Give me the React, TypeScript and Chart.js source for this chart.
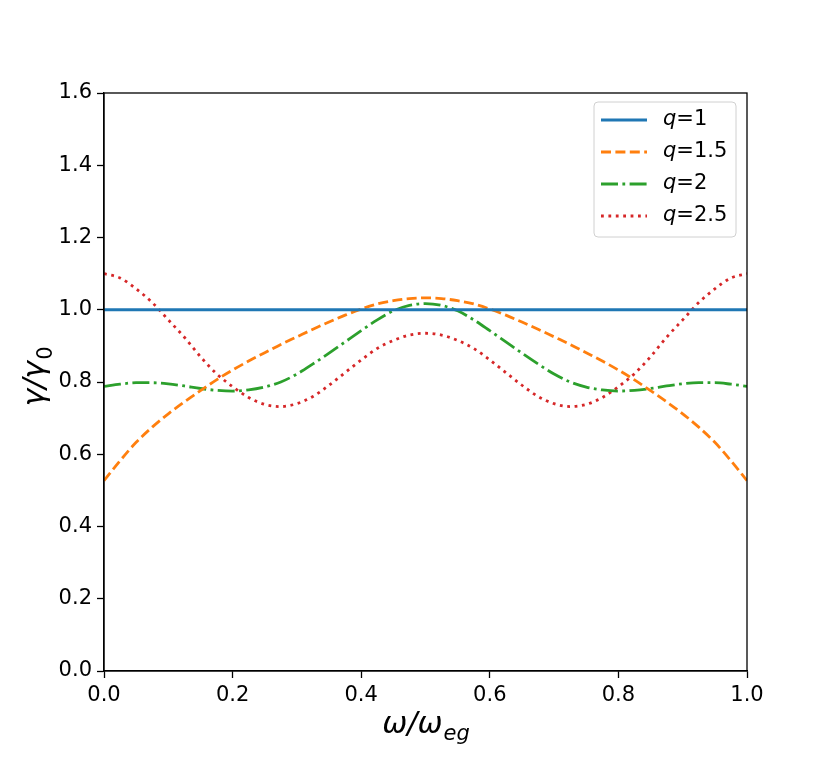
import React, { useEffect, useRef } from 'react';
import { Chart, registerables } from 'chart.js';

Chart.register(...registerables);

// omega / omega_eg sample points
const omegaRatio = [
  0, 0.025, 0.05, 0.075, 0.1, 0.125, 0.15, 0.175, 0.2, 0.225, 0.25,
  0.275, 0.3, 0.325, 0.35, 0.375, 0.4, 0.425, 0.45, 0.475, 0.5,
  0.525, 0.55, 0.575, 0.6, 0.625, 0.65, 0.675, 0.7, 0.725, 0.75,
  0.775, 0.8, 0.825, 0.85, 0.875, 0.9, 0.925, 0.95, 0.975, 1.0
];

// gamma / gamma_0
const gammaQ1 = [
  1, 1, 1, 1, 1, 1, 1, 1, 1, 1, 1,
  1, 1, 1, 1, 1, 1, 1, 1, 1, 1,
  1, 1, 1, 1, 1, 1, 1, 1, 1, 1,
  1, 1, 1, 1, 1, 1, 1, 1, 1, 1
];
const gammaQ15 = [
  0.527, 0.582, 0.633, 0.675, 0.712, 0.745, 0.776, 0.806, 0.833, 0.858, 0.881,
  0.904, 0.925, 0.946, 0.966, 0.985, 1.002, 1.016, 1.025, 1.031, 1.033,
  1.031, 1.025, 1.016, 1.002, 0.985, 0.966, 0.946, 0.925, 0.904, 0.881,
  0.858, 0.833, 0.806, 0.776, 0.745, 0.712, 0.675, 0.633, 0.582, 0.527
];
const gammaQ2 = [
  0.788, 0.794, 0.798, 0.798, 0.795, 0.789, 0.782, 0.777, 0.775, 0.778, 0.786,
  0.800, 0.822, 0.850, 0.880, 0.911, 0.942, 0.972, 0.997, 1.012, 1.017,
  1.012, 0.997, 0.972, 0.942, 0.911, 0.880, 0.850, 0.822, 0.800, 0.786,
  0.778, 0.775, 0.777, 0.782, 0.789, 0.795, 0.798, 0.798, 0.794, 0.788
];
const gammaQ25 = [
  1.100, 1.088, 1.058, 1.020, 0.972, 0.924, 0.870, 0.823, 0.787, 0.757, 0.738,
  0.732, 0.740, 0.760, 0.791, 0.826, 0.861, 0.893, 0.915, 0.930, 0.935,
  0.930, 0.915, 0.893, 0.861, 0.826, 0.791, 0.760, 0.740, 0.732, 0.738,
  0.757, 0.787, 0.823, 0.870, 0.924, 0.972, 1.020, 1.058, 1.088, 1.100
];

const qValues = ['1', '1.5', '2', '2.5'];
const xTicks = [0, 0.2, 0.4, 0.6, 0.8, 1.0];
const yTicks = [0, 0.2, 0.4, 0.6, 0.8, 1.0, 1.2, 1.4, 1.6];

const FONT = '"DejaVu Sans", sans-serif';

// frame on all four sides, like matplotlib spines
const framePlugin = {
  id: 'frame',
  afterDraw(chart: any) {
    const { ctx, chartArea: a } = chart;
    ctx.save();
    ctx.strokeStyle = '#000';
    ctx.lineWidth = 1.3;
    ctx.setLineDash([]);
    ctx.strokeRect(a.left, a.top, a.right - a.left, a.bottom - a.top);
    ctx.restore();
  }
};

// axis titles with subscripts
const titlesPlugin = {
  id: 'mathTitles',
  afterDraw(chart: any) {
    const { ctx, chartArea: a } = chart;
    const main = `italic 30px ${FONT}`;
    const sub = `italic 21px ${FONT}`;
    ctx.save();
    ctx.fillStyle = '#000';
    ctx.textBaseline = 'alphabetic';
    ctx.textAlign = 'left';

    // x title: ω/ω_eg
    ctx.font = main;
    const xMain = 'ω/ω';
    const wMain = ctx.measureText(xMain).width;
    ctx.font = sub;
    const wSub = ctx.measureText('eg').width;
    const cx = (a.left + a.right) / 2;
    const x0 = cx - (wMain + wSub) / 2;
    ctx.font = main;
    ctx.fillText(xMain, x0, 733);
    ctx.font = sub;
    ctx.fillText('eg', x0 + wMain + 1, 740);

    // y title: γ/γ_0
    ctx.translate(44, (a.top + a.bottom) / 2 - 5);
    ctx.rotate(-Math.PI / 2);
    ctx.font = main;
    const yMain = 'γ/γ';
    const wy = ctx.measureText(yMain).width;
    ctx.font = `21px ${FONT}`;
    const wy0 = ctx.measureText('0').width;
    const y0 = -(wy + wy0) / 2;
    ctx.font = main;
    ctx.fillText(yMain, y0, 0);
    ctx.font = `21px ${FONT}`;
    ctx.fillText('0', y0 + wy + 1, 8);
    ctx.restore();
  }
};

// legend box in the upper right of the plot area
const legendPlugin = {
  id: 'lineLegend',
  afterDraw(chart: any) {
    const { ctx, chartArea: a } = chart;
    const boxRight = a.right - 11;
    const boxLeft = boxRight - 142;
    const boxTop = a.top + 9;
    const boxH = 135;
    ctx.save();
    ctx.beginPath();
    ctx.roundRect(boxLeft, boxTop, boxRight - boxLeft, boxH, 4);
    ctx.fillStyle = 'rgba(255,255,255,0.8)';
    ctx.fill();
    ctx.strokeStyle = '#d0d0d0';
    ctx.lineWidth = 1;
    ctx.stroke();

    chart.data.datasets.forEach((ds: any, i: number) => {
      const rowY = boxTop + 18 + i * 32;
      ctx.beginPath();
      ctx.strokeStyle = ds.borderColor;
      ctx.lineWidth = ds.borderWidth;
      ctx.setLineDash(ds.borderDash || []);
      ctx.moveTo(boxLeft + 7, rowY);
      ctx.lineTo(boxLeft + 53, rowY);
      ctx.stroke();
      ctx.setLineDash([]);

      ctx.fillStyle = '#000';
      ctx.textBaseline = 'middle';
      ctx.textAlign = 'left';
      ctx.font = `italic 21px ${FONT}`;
      const tx = boxLeft + 69;
      ctx.fillText('q', tx, rowY);
      const wq = ctx.measureText('q').width;
      ctx.font = `21px ${FONT}`;
      ctx.fillText('=' + qValues[i], tx + wq, rowY);
    });
    ctx.restore();
  }
};

const toPoints = (ys: number[]) => omegaRatio.map((x, i) => ({ x, y: ys[i] }));

const App: React.FC = () => {
  const canvasRef = useRef<HTMLCanvasElement | null>(null);
  const chartRef = useRef<Chart | null>(null);

  useEffect(() => {
    document.body.style.margin = '0';
    if (!canvasRef.current) return;
    const ctx = canvasRef.current.getContext('2d');
    if (!ctx) return;

    if (chartRef.current) chartRef.current.destroy();

    chartRef.current = new Chart(ctx, {
      type: 'line',
      data: {
        datasets: [
          {
            label: 'q=' + qValues[0],
            data: toPoints(gammaQ1),
            borderColor: '#1f77b4',
            borderWidth: 2.8,
            pointRadius: 0,
            cubicInterpolationMode: 'monotone'
          },
          {
            label: 'q=' + qValues[1],
            data: toPoints(gammaQ15),
            borderColor: '#ff7f0e',
            borderWidth: 2.8,
            borderDash: [10, 4.4],
            pointRadius: 0,
            cubicInterpolationMode: 'monotone'
          },
          {
            label: 'q=' + qValues[2],
            data: toPoints(gammaQ2),
            borderColor: '#2ca02c',
            borderWidth: 2.8,
            borderDash: [17, 4.4, 2.8, 4.4],
            pointRadius: 0,
            cubicInterpolationMode: 'monotone'
          },
          {
            label: 'q=' + qValues[3],
            data: toPoints(gammaQ25),
            borderColor: '#d62728',
            borderWidth: 2.8,
            borderDash: [2.8, 4.6],
            pointRadius: 0,
            cubicInterpolationMode: 'monotone'
          }
        ]
      },
      options: {
        responsive: false,
        animation: false,
        layout: { padding: { top: 93, right: 83, left: 0, bottom: 0 } },
        plugins: {
          legend: { display: false },
          tooltip: { enabled: false },
          title: { display: false }
        },
        scales: {
          x: {
            type: 'linear',
            min: 0,
            max: 1,
            afterFit: (s: any) => { s.height = 96; },
            afterBuildTicks: (s: any) => { s.ticks = xTicks.map((v) => ({ value: v })); },
            ticks: {
              color: '#000',
              font: { family: FONT, size: 21 },
              padding: 5,
              maxRotation: 0,
              callback: (v: any) => Number(v).toFixed(1)
            },
            grid: {
              drawOnChartArea: false,
              drawTicks: true,
              tickLength: 7,
              tickColor: '#000',
              tickWidth: 1.3
            },
            border: { display: true, color: '#000', width: 1.3 }
          },
          y: {
            type: 'linear',
            min: 0,
            max: 1.6,
            afterFit: (s: any) => { s.width = 104; },
            afterBuildTicks: (s: any) => { s.ticks = yTicks.map((v) => ({ value: v })); },
            ticks: {
              color: '#000',
              font: { family: FONT, size: 21 },
              padding: 5,
              callback: (v: any) => Number(v).toFixed(1)
            },
            grid: {
              drawOnChartArea: false,
              drawTicks: true,
              tickLength: 7,
              tickColor: '#000',
              tickWidth: 1.3
            },
            border: { display: true, color: '#000', width: 1.3 }
          }
        }
      },
      plugins: [framePlugin, titlesPlugin, legendPlugin]
    });

    return () => {
      if (chartRef.current) {
        chartRef.current.destroy();
        chartRef.current = null;
      }
    };
  }, []);

  return (
    <div style={{ width: '830px', height: '767px', background: '#fff' }}>
      <canvas ref={canvasRef} width={830} height={767} style={{ display: 'block' }} />
    </div>
  );
};

export default App;
